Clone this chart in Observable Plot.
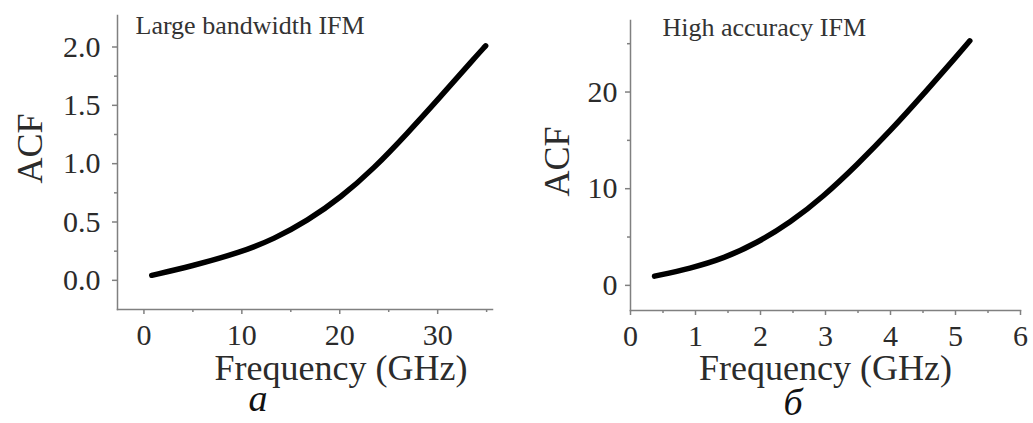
<!DOCTYPE html>
<html><head><meta charset="utf-8">
<script src="https://cdn.jsdelivr.net/npm/d3@7"></script>
<script src="https://cdn.jsdelivr.net/npm/@observablehq/plot@0.6"></script>
<style>
body{margin:0;background:#fff;}
#wrap{position:relative;width:1033px;height:423px;overflow:hidden;font-family:"Liberation Serif","Times New Roman",serif;background:#fff;}
#left{position:absolute;left:0;top:0;}
#right{position:absolute;left:516px;top:0;}
.cap{position:absolute;font-style:italic;font-size:38px;line-height:30px;color:#111;transform:translateX(-50%);font-family:"Liberation Serif","Times New Roman",serif;}
svg text{font-family:"Liberation Serif","Times New Roman",serif !important;}
</style></head>
<body>
<div id="wrap">
  <div id="left"></div>
  <div id="right"></div>
  <div class="cap" style="left:258px;top:383px">а</div>
  <div class="cap" style="left:793px;top:387px">б</div>
</div>
<script>
// ---- Data ----
const leftTitle = "Large bandwidth IFM";
const leftFreq = [0.8, 4.8, 9.9, 13.3, 16.7, 20.1, 23.5, 26.9, 30.3, 33.7, 34.9];
const leftACF  = [0.043, 0.12, 0.24, 0.355, 0.51, 0.71, 0.96, 1.26, 1.575, 1.90, 2.01];
const leftXTicks = [0, 10, 20, 30];
const leftXMinor = [5, 15, 25, 35];
const leftYTicks = [0, 0.5, 1.0, 1.5, 2.0];
const leftYMinor = [0.25, 0.75, 1.25, 1.75];

const rightTitle = "High accuracy IFM";
const rightFreq = [0.37, 0.92, 1.44, 1.95, 2.46, 2.97, 3.49, 4.0, 4.51, 5.03, 5.22];
const rightACF  = [0.95, 1.75, 2.8, 4.4, 6.5, 9.2, 12.5, 16.0, 19.8, 23.8, 25.3];
const rightXTicks = [0, 1, 2, 3, 4, 5, 6];
const rightXMinor = [0.5, 1.5, 2.5, 3.5, 4.5, 5.5];
const rightYTicks = [0, 10, 20];
const rightYMinor = [5, 15, 25];

const xLabel = "Frequency (GHz)";
const yLabel = "ACF";

const FONT = '"Liberation Serif", "Times New Roman", serif';
const AXIS = "#808080";
const TXT = "#2b2b2b";

function panel(o) {
  const data = o.freq.map((f, i) => ({f, a: o.acf[i]}));
  return Plot.plot({
    width: o.width, height: 385,
    marginLeft: o.ml, marginRight: o.mr, marginTop: o.mt, marginBottom: o.mb,
    style: {fontFamily: FONT, fontSize: "30px", background: "white", overflow: "visible"},
    x: {domain: o.xDomain, axis: null},
    y: {domain: o.yDomain, axis: null},
    marks: [
      Plot.frame({anchor: "left", stroke: AXIS, strokeWidth: 1.5}),
      Plot.frame({anchor: "bottom", stroke: AXIS, strokeWidth: 1.5}),
      Plot.axisX(o.xTicks, {tickSize: 5, tickPadding: 9, fontSize: 30, fontFamily: FONT, stroke: AXIS, fill: TXT, label: null, strokeWidth: 1.5}),
      Plot.axisX(o.xMinor, {tickSize: 3, tickFormat: () => "", stroke: AXIS, label: null, strokeWidth: 1.5}),
      Plot.axisY(o.yTicks, {tickSize: 5, tickPadding: o.yPad, fontSize: 30, fontFamily: FONT, stroke: AXIS, fill: TXT, label: null, tickFormat: o.yFormat, strokeWidth: 1.5}),
      Plot.axisY(o.yMinor, {tickSize: 3, tickFormat: () => "", stroke: AXIS, label: null, strokeWidth: 1.5}),
      Plot.line(data, {x: "f", y: "a", stroke: "black", strokeWidth: 5.5, curve: "basis", strokeLinecap: "round"}),
      Plot.text([o.title], {frameAnchor: "top-left", textAnchor: "start", lineAnchor: "middle", dx: o.tdx, dy: o.tdy, fontSize: 26, fontFamily: FONT, fill: "#333"}),
      Plot.text([yLabel], {frameAnchor: "left", rotate: -90, textAnchor: "middle", lineAnchor: "middle", dx: o.ydx, dy: o.ydy, fontSize: 36, fontFamily: FONT, fill: TXT}),
      Plot.text([xLabel], {frameAnchor: "bottom", textAnchor: "middle", lineAnchor: "middle", dx: o.xdx, dy: o.xdy, fontSize: 36, fontFamily: FONT, fill: TXT})
    ]
  });
}

document.getElementById("left").append(panel({
  freq: leftFreq, acf: leftACF, title: leftTitle,
  width: 516, ml: 117, mr: 24, mt: 15, mb: 76,
  xDomain: [-2.7, 35.6], yDomain: [-0.25, 2.27],
  xTicks: leftXTicks, xMinor: leftXMinor, yTicks: leftYTicks, yMinor: leftYMinor,
  yFormat: ".1f", yPad: 12,
  tdx: 18, tdy: 10, ydx: -87, ydy: -14, xdx: 36, xdy: 59
}));

document.getElementById("right").append(panel({
  freq: rightFreq, acf: rightACF, title: rightTitle,
  width: 517, ml: 114, mr: 13, mt: 20, mb: 75,
  xDomain: [0, 6], yDomain: [-2.6, 27.4],
  xTicks: rightXTicks, xMinor: rightXMinor, yTicks: rightYTicks, yMinor: rightYMinor,
  yFormat: d => String(d), yPad: 8,
  tdx: 32, tdy: 7, ydx: -73, ydy: -4, xdx: 0, xdy: 58
}));
</script>
</body></html>
